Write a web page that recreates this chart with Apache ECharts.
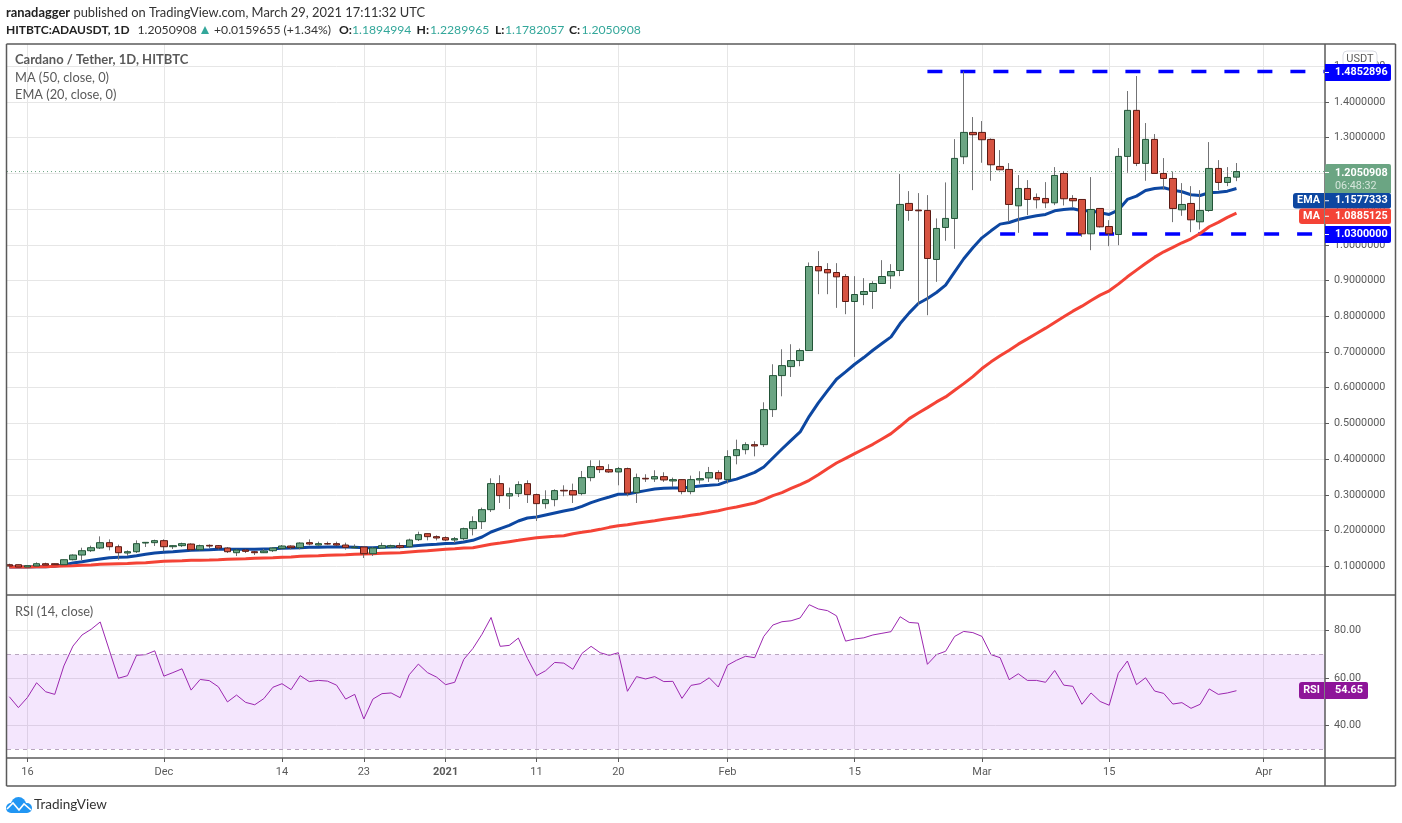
<!DOCTYPE html>
<html><head><meta charset="utf-8">
<script src="https://cdn.jsdelivr.net/npm/echarts@6/dist/echarts.min.js"></script>
<style>html,body{margin:0;padding:0;background:#fff}#c{width:1402px;height:823px}</style></head>
<body><div id="c"></div>
<script>
// Day 0 = 14 Nov 2020; one candle per day through 29 Mar 2021
const opens=[.1045,.1045,.0980,.1008,.1073,.1073,.1045,.1185,.1316,.1437,.1512,.1662,.1549,.1372,.1409,.1652,.1662,.1718,.1549,.1578,.1624,.1465,.1587,.1578,.1512,.1381,.1456,.1409,.1381,.1437,.1503,.1568,.1521,.1662,.1596,.1634,.1634,.1596,.1521,.1540,.1353,.1512,.1540,.1578,.1549,.1746,.1914,.1830,.1802,.1737,.1774,.2054,.2250,.2586,.3315,.2969,.3035,.3315,.3007,.2755,.2867,.3128,.3119,.3035,.3483,.3791,.3707,.3642,.3735,.3063,.3464,.3446,.3511,.3390,.3427,.3091,.3418,.3474,.3623,.3427,.4098,.4266,.4406,.4406,.5387,.6339,.6591,.6760,.7040,.9393,.9309,.9225,.9113,.8413,.8609,.8693,.8917,.9132,.9281,1.1159,1.0972,1.0963,.9590,1.0486,1.0737,1.2465,1.3147,1.3147,1.2951,1.2194,1.2110,1.1092,1.1578,1.1326,1.1298,1.1176,1.1998,1.1298,1.1270,1.0308,1.1018,1.0513,1.0289,1.2475,1.3764,1.2279,1.2951,1.1998,1.1858,1.0980,1.1158,1.0644,1.0962,1.2138,1.1746,1.1895];
const closes=[.1008,.0980,.1017,.1073,.1036,.1045,.1185,.1316,.1437,.1521,.1662,.1549,.1381,.1409,.1634,.1671,.1718,.1549,.1578,.1634,.1465,.1578,.1568,.1512,.1409,.1456,.1419,.1381,.1428,.1512,.1568,.1521,.1652,.1624,.1634,.1624,.1596,.1531,.1540,.1353,.1512,.1578,.1578,.1531,.1736,.1886,.1830,.1793,.1736,.1774,.2054,.2250,.2586,.3315,.2979,.3035,.3287,.3007,.2755,.2867,.3119,.3110,.2997,.3483,.3791,.3707,.3642,.3735,.3053,.3483,.3446,.3511,.3418,.3427,.3091,.3427,.3455,.3623,.3446,.4072,.4266,.4406,.4369,.5387,.6339,.6619,.6760,.7040,.9393,.9272,.9216,.9104,.8413,.8609,.8693,.8917,.9113,.9253,1.1131,1.0963,1.0953,.9618,1.0458,1.0739,1.2419,1.3147,1.3082,1.2942,1.2241,1.2101,1.1130,1.1578,1.1270,1.1261,1.1176,1.1942,1.1289,1.1233,1.0308,1.0990,1.0504,1.0308,1.2475,1.3764,1.2279,1.2951,1.1998,1.1858,1.1018,1.1130,1.0700,1.0962,1.2138,1.1746,1.1886,1.2051];
const lows=[.0999,.0980,.0980,.1008,.1036,.1045,.1045,.1167,.1167,.1400,.1484,.1447,.1185,.1297,.1372,.1540,.1568,.1419,.1484,.1540,.1447,.1447,.1512,.1475,.1372,.1288,.1372,.1316,.1372,.1400,.1465,.1475,.1475,.1587,.1578,.1606,.1568,.1465,.1493,.1232,.1288,.1493,.1512,.1493,.1521,.1708,.1727,.1727,.1708,.1652,.1727,.1867,.2045,.2521,.2773,.2605,.2941,.2773,.2269,.2615,.2680,.2960,.2773,.2988,.3380,.3614,.3614,.3268,.2960,.2773,.3362,.3362,.3362,.3222,.3016,.3016,.3315,.3362,.3362,.3315,.3855,.4135,.4079,.4341,.5181,.5760,.6302,.6601,.7031,.8618,.8618,.8235,.8058,.6862,.8310,.8207,.8917,.8768,.9123,1.0673,.8310,.8030,.8964,1.0113,.9888,1.2260,1.1531,1.2297,1.1793,1.2092,1.0644,1.0336,1.0831,1.1018,1.1027,1.1111,1.1102,1.1046,1.0224,.9850,1.0485,.9963,.9990,1.2017,1.2204,1.1793,1.1998,1.1550,1.0635,1.0812,1.0355,1.0429,1.0924,1.1531,1.1643,1.1782];
const highs=[.1073,.1045,.1017,.1111,.1101,.1073,.1185,.1334,.1521,.1578,.1839,.1755,.1606,.1447,.1727,.1680,.1746,.1755,.1587,.1662,.1643,.1606,.1615,.1596,.1540,.1475,.1475,.1428,.1484,.1540,.1596,.1587,.1671,.1755,.1690,.1690,.1690,.1662,.1615,.1559,.1540,.1662,.1606,.1662,.1774,.1970,.1914,.1867,.1839,.1821,.2082,.2400,.2643,.3464,.3549,.3203,.3380,.3408,.3035,.3128,.3156,.3268,.3315,.3670,.3969,.3969,.3857,.3782,.3763,.3595,.3577,.3689,.3633,.3483,.3427,.3539,.3661,.3782,.3689,.4249,.4546,.4472,.4500,.5592,.6657,.7077,.7217,.7096,.9506,.9823,.9487,.9487,.9179,.9123,.9067,.8982,.9571,.9459,1.1981,1.1504,1.1448,1.1392,1.0739,1.1747,1.2960,1.4853,1.3577,1.3465,1.2979,1.2652,1.2288,1.1952,1.1812,1.1438,1.1756,1.2176,1.2064,1.1391,1.1270,1.1896,1.1018,1.0691,1.2708,1.4305,1.4726,1.3409,1.3101,1.2428,1.2054,1.1728,1.1643,1.1531,1.2876,1.2372,1.2176,1.2290];
const ema20=[.0980,.0980,.0980,.0989,.0989,.0999,.1040,.1092,.1129,.1167,.1204,.1241,.1251,.1260,.1297,.1335,.1372,.1391,.1409,.1428,.1447,.1456,.1465,.1475,.1475,.1475,.1475,.1475,.1484,.1493,.1503,.1512,.1521,.1531,.1531,.1540,.1540,.1540,.1531,.1521,.1521,.1531,.1540,.1549,.1560,.1585,.1605,.1620,.1640,.1645,.1680,.1727,.1821,.1961,.2054,.2147,.2269,.2353,.2381,.2437,.2493,.2549,.2596,.2680,.2783,.2867,.2941,.3016,.3025,.3072,.3119,.3166,.3184,.3194,.3190,.3222,.3250,.3268,.3287,.3380,.3440,.3530,.3630,.3780,.4032,.4285,.4528,.4761,.5200,.5574,.5910,.6237,.6442,.6657,.6844,.7049,.7236,.7423,.7796,.8095,.8357,.8497,.8665,.8870,.9244,.9610,.9916,1.0196,1.0392,1.0579,1.0625,1.0709,1.0765,1.0812,1.0850,1.0952,1.0990,1.1008,1.0952,1.0952,1.0896,1.0850,1.0971,1.1270,1.1363,1.1522,1.1578,1.1597,1.1531,1.1485,1.1401,1.1382,1.1457,1.1475,1.1503,1.1577];
const ma50=[.0980,.0980,.0980,.0989,.0989,.0999,.1008,.1017,.1027,.1036,.1055,.1064,.1073,.1082,.1092,.1101,.1120,.1139,.1148,.1157,.1167,.1171,.1176,.1185,.1195,.1204,.1213,.1223,.1232,.1241,.1251,.1260,.1279,.1288,.1297,.1307,.1316,.1325,.1335,.1344,.1353,.1363,.1372,.1381,.1400,.1419,.1437,.1456,.1475,.1493,.1512,.1522,.1569,.1615,.1652,.1690,.1727,.1765,.1802,.1821,.1839,.1858,.1914,.1951,.1989,.2035,.2091,.2138,.2166,.2204,.2241,.2278,.2316,.2353,.2390,.2428,.2465,.2512,.2558,.2615,.2661,.2717,.2773,.2867,.2979,.3065,.3180,.3290,.3407,.3566,.3733,.3892,.4023,.4154,.4285,.4415,.4565,.4714,.4920,.5134,.5293,.5443,.5602,.5742,.5928,.6115,.6310,.6537,.6724,.6892,.7051,.7219,.7368,.7518,.7667,.7826,.7984,.8143,.8283,.8442,.8591,.8713,.8899,.9105,.9292,.9478,.9655,.9805,.9927,1.0057,1.0169,1.0319,1.0506,1.0627,1.0767,1.0885];
const rsi=[52.1,47.5,51.8,58.0,54.2,53.1,65.1,73.5,78.2,80.6,83.7,71.8,59.9,61.0,69.6,69.9,71.5,60.8,62.3,63.9,54.9,59.4,58.9,56.3,49.9,52.8,49.7,48.7,51.3,56.1,57.6,55.1,61.0,58.5,59.0,58.7,57.0,51.1,53.1,42.7,51.1,53.4,53.7,51.7,61.4,65.9,62.3,60.4,57.2,58.2,67.9,72.5,78.5,85.6,73.4,73.8,76.9,68.3,61.0,63.1,66.6,66.3,63.7,70.4,73.4,70.7,69.6,70.7,54.4,60.6,59.6,60.6,58.5,58.6,51.4,56.9,57.6,60.1,56.2,65.4,67.5,69.2,68.6,77.6,82.4,83.8,84.2,85.4,91.0,89.2,88.5,86.3,75.6,76.5,77.0,78.2,78.9,79.6,85.9,83.5,83.2,65.8,69.9,71.3,77.6,79.7,79.2,77.6,69.9,68.6,59.3,61.8,59.0,59.0,58.2,63.2,57.0,56.5,48.9,53.7,50.1,48.5,62.0,67.2,57.2,60.1,54.5,53.5,49.0,49.6,47.2,48.9,55.4,53.1,53.7,54.65];
const priceTicks=[.1,.2,.3,.4,.5,.6,.7,.8,.9,1.0,1.1,1.2,1.3,1.4,1.5];
const rsiTicks=[40,60,80];
const timeTickDays=[2,17,30,39,48,58,67,79,93,107,121,138];
const timeTickLabels=['16','Dec','14','23','2021','11','20','Feb','15','Mar','15','Apr'];
const resistance=1.4852896, support=1.03, lastPrice=1.2050908;
const resistanceStartDay=101, supportStartDay=109;

const FONT='Lato', NARROW='Roboto', GREY='#5a5a5a', FRAME='#5a5a5a', GRID='#e6e6e6', AXF=10.8;
const xMin=-0.253, xMax=144.74;
const days=opens.map((_,i)=>i);
const wickData=days.map(i=>[i,opens[i],closes[i],lows[i],highs[i]]);
const bodyData=days.map(i=>[i,opens[i],closes[i],Math.min(opens[i],closes[i]),Math.max(opens[i],closes[i])]);
const chart=echarts.init(document.getElementById('c'),null,{renderer:'canvas'});
const xBase={type:'value',min:xMin,max:xMax,axisLine:{show:false,onZero:false},
  splitLine:{show:true,lineStyle:{color:GRID,width:1}}};
chart.setOption({
  animation:false,backgroundColor:'#fff',
  grid:[{left:7,width:1318,top:44,height:551},{left:7,width:1318,top:595,height:163}],
  xAxis:[
    Object.assign({},xBase,{gridIndex:0,axisTick:{show:false,customValues:timeTickDays},axisLabel:{show:false,customValues:timeTickDays}}),
    Object.assign({},xBase,{gridIndex:1,axisTick:{show:true,length:4,lineStyle:{color:FRAME},customValues:timeTickDays},
      axisLabel:{show:true,customValues:timeTickDays,margin:9,fontFamily:NARROW,fontSize:11,color:GREY,
        formatter:v=>{const s=timeTickLabels[timeTickDays.indexOf(v)];return s==='2021'?'{b|2021}':s;},
        rich:{b:{fontFamily:NARROW,fontSize:11,fontWeight:'bold',color:GREY}}}})
  ],
  yAxis:[
    {type:'value',gridIndex:0,position:'right',min:0.0197,max:1.5622,axisLine:{show:false,onZero:false},
     axisTick:{show:true,length:4,lineStyle:{color:FRAME},customValues:priceTicks},
     axisLabel:{customValues:priceTicks,margin:9,fontFamily:NARROW,fontSize:AXF,color:GREY,formatter:v=>v.toFixed(7)},
     splitLine:{show:true,lineStyle:{color:GRID,width:1}}},
    {type:'value',gridIndex:1,position:'right',min:26.2,max:95.1,axisLine:{show:false,onZero:false},
     axisTick:{show:true,length:4,lineStyle:{color:FRAME},customValues:rsiTicks},
     axisLabel:{customValues:rsiTicks,margin:9,fontFamily:NARROW,fontSize:AXF,color:GREY,formatter:v=>v.toFixed(2)},
     splitLine:{show:true,lineStyle:{color:GRID,width:1}}}
  ],
  series:[
    {type:'line',name:'lastPrice',xAxisIndex:0,yAxisIndex:0,symbol:'none',silent:true,z:2,
     data:[[xMin,lastPrice],[xMax,lastPrice]],lineStyle:{color:'#6ba583',width:1,type:[1,3]}},
    {type:'line',name:'resistance',xAxisIndex:0,yAxisIndex:0,symbol:'none',z:3,
     data:[[resistanceStartDay,resistance],[xMax,resistance]],lineStyle:{color:'#0000ff',width:3.5,type:[15,18]}},
    {type:'line',name:'support',xAxisIndex:0,yAxisIndex:0,symbol:'none',z:3,
     data:[[supportStartDay,support],[xMax,support]],lineStyle:{color:'#0000ff',width:3.5,type:[15,18]}},
    {type:'line',name:'EMA',xAxisIndex:0,yAxisIndex:0,symbol:'none',z:4,
     data:days.map(i=>[i,ema20[i]]),lineStyle:{color:'#0d47a1',width:3}},
    {type:'line',name:'MA',xAxisIndex:0,yAxisIndex:0,symbol:'none',z:4,
     data:days.map(i=>[i,ma50[i]]),lineStyle:{color:'#f44336',width:3}},
    {type:'candlestick',name:'wick',xAxisIndex:0,yAxisIndex:0,z:5,barWidth:1,encode:{x:0,y:[1,2,3,4]},data:wickData,
     itemStyle:{color:'#737375',color0:'#737375',borderColor:'#737375',borderColor0:'#737375',borderWidth:1}},
    {type:'candlestick',name:'body',xAxisIndex:0,yAxisIndex:0,z:6,barWidth:7,encode:{x:0,y:[1,2,3,4]},data:bodyData,
     itemStyle:{color:'#6ba583',color0:'#d75442',borderColor:'#225437',borderColor0:'#5b1a13',borderWidth:1}},
    {type:'line',name:'RSI',xAxisIndex:1,yAxisIndex:1,symbol:'none',z:4,
     data:days.map(i=>[i,rsi[i]]),lineStyle:{color:'#9c27b0',width:1},
     markArea:{silent:true,itemStyle:{color:'#9105eb',opacity:.1},data:[[{yAxis:30},{yAxis:70}]]},
     markLine:{silent:true,symbol:'none',label:{show:false},lineStyle:{color:'#b8a6bf',type:[4,4],width:1},data:[{yAxis:70},{yAxis:30}]}}
  ]
});
function txt(x,y,text,o){return {type:'text',x,y,z:50,zlevel:1,style:Object.assign({text,fontFamily:FONT,fontSize:13,fill:GREY,verticalAlign:'middle',align:'left'},o||{})};}
function box(x,y,w,h,fill,r){return {type:'rect',z:48,zlevel:1,shape:{x,y,width:w,height:h,r:r||0},style:{fill}};}
function hline(x1,y1,x2,y2){return {type:'line',z:47,zlevel:1,shape:{x1,y1,x2,y2},style:{stroke:FRAME,lineWidth:1.5}};}
const BADGE={fill:'#fff',fontFamily:NARROW,fontSize:AXF,fontWeight:'bold'};
function badge(y,h,fill,text){return [box(1325,y,66,h,fill,[0,2,2,0]),txt(1335,y+h/2,text,BADGE),box(1325,y+h/2-.5,4,1,'#fff')];}
function tag(x,y,h,fill,text){return [box(x,y,1324-x,h,fill,[3,0,0,3]),txt((x+1324)/2,y+h/2,text,Object.assign({},BADGE,{align:'center'}))];}
const teal='#33a79a', DARK='#222', L2=12.2;
const line2=[[6,'HITBTC:ADAUSDT, 1D',1],[137.5,'1.2050908',0],[214,'+0.0159655 (+1.34%)',0],
  [339,'O:',1],[352,'1.1894994',2],[416.5,'H:',1],[430,'1.2289965',2],[495,'L:',1],[505,'1.1782057',2],[569,'C:',1],[581.5,'1.2050908',2]];
const graphics=[
  txt(6,13,'{b|ranadagger} published on TradingView.com, March 29, 2021 17:11:32 UTC',{fill:'#333',fontSize:12.9,rich:{b:{fontFamily:FONT,fontSize:12.9,fontWeight:'bold',fill:DARK}}}),
  ...line2.map(p=>txt(p[0],30,p[1],p[2]===1?{fill:DARK,fontWeight:'bold',fontSize:p[1].length>3?12:L2}:{fill:p[2]===2?teal:'#333',fontSize:L2})),
  {type:'polygon',z:48,zlevel:1,shape:{points:[[201,34],[205,26],[209,34]]},style:{fill:teal}},
  txt(15,60,'Cardano / Tether, 1D, HITBTC',{fontWeight:'bold',fontSize:13}),
  txt(15,78,'MA (50, close, 0)',{fontSize:12.8}),
  txt(15,95,'EMA (20, close, 0)',{fontSize:12.8}),
  txt(15,612,'RSI (14, close)',{fontSize:12.8}),
  hline(6.5,44,1395.5,44),hline(6.5,44,6.5,786),hline(1395.5,44,1395.5,786),hline(6.5,786,1395.5,786),
  hline(6.5,595,1395.5,595),hline(6.5,758,1395.5,758),hline(1325,44,1325,786),
  {type:'rect',z:48,zlevel:1,shape:{x:1343,y:51,width:34,height:16,r:4},style:{fill:'#fff',stroke:'#d9dbe3',lineWidth:1}},
  txt(1360,59,'USDT',{fontSize:11,fontFamily:NARROW,align:'center'}),
  ...badge(64,17,'#0000ff','1.4852896'),
  ...badge(226,17,'#0000ff','1.0300000'),
  box(1325,164,66,29,'#6ba583',[2,2,0,0]),
  txt(1335,173,'1.2050908',BADGE),
  txt(1335,186,'06:48:32',{fill:'#d5e6db',fontFamily:NARROW,fontSize:AXF}),
  box(1325,172,4,1,'#fff'),
  ...badge(193,15.5,'#0d47a1','1.1577333'),
  ...tag(1293,193,15.5,'#0d47a1','EMA'),
  ...badge(208.5,15.5,'#f44336','1.0885125'),
  ...tag(1299,208.5,15.5,'#f44336','MA'),
  box(1325,682,43,17,'#8e1599',[0,2,2,0]),
  txt(1335,690.5,'54.65',BADGE),
  ...tag(1299,682,17,'#8e1599','RSI'),
  {type:'circle',z:48,zlevel:1,shape:{cx:11,cy:808,r:5},style:{fill:'#2196f3'}},
  {type:'circle',z:48,zlevel:1,shape:{cx:18.5,cy:804.5,r:7.5},style:{fill:'#2196f3'}},
  {type:'circle',z:48,zlevel:1,shape:{cx:27,cy:808,r:5},style:{fill:'#2196f3'}},
  box(11,806,16,7,'#2196f3'),
  {type:'polyline',z:49,zlevel:1,shape:{points:[[7,809],[13,803],[19,810],[24,804],[31,810]]},style:{stroke:'#fff',lineWidth:1.6,fill:'none'}},
  txt(34,805,'TradingView',{fill:'#333',fontSize:13.5})
];
chart.setOption({graphic:graphics});
</script></body></html>
